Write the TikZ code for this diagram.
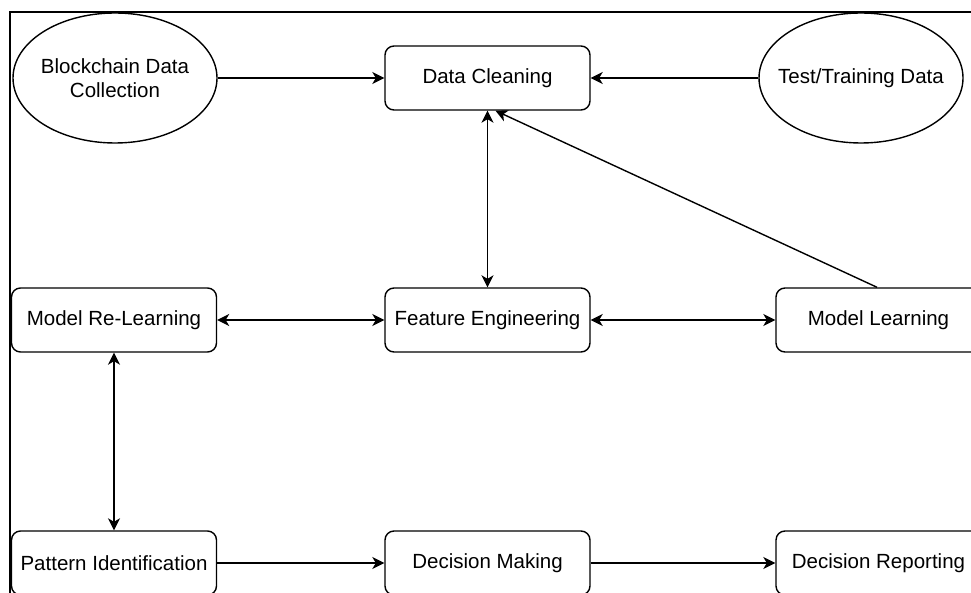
\documentclass[tikz,border=0pt]{standalone}
\usepackage{fontspec}
\setmainfont{Liberation Sans}
\usetikzlibrary{shapes.geometric,arrows.meta}
\begin{document}
\begin{tikzpicture}[x=1pt,y=-1pt,
  box/.style={draw,line width=1.4pt,rounded corners=9pt,minimum width=205pt,minimum height=64pt,inner sep=0pt,font=\fontsize{20.5}{24}\selectfont,align=center},
  oval/.style={draw,line width=1.4pt,ellipse,minimum width=204pt,minimum height=130pt,inner sep=0pt},
  ovaltext/.style={inner sep=0pt,font=\fontsize{20.5}{24}\selectfont,align=center},
  conn/.style={line width=1.4pt},
  tip/.tip={Stealth[length=12pt,width=12pt,inset=3.5pt]}]
\clip (0,0) rectangle (971,593);
\fill[white] (0,0) rectangle (971,593);
\draw[line width=2.5pt] (10,593) -- (10,12) -- (971,12);

\node[oval] (bc) at (115,78) {};
\node[ovaltext] (bctext) at (bc.center) {Blockchain Data\\Collection};
\node[oval] (tt) at (861,78) {};
\node[ovaltext] (tttext) at (tt.center) {Test/Training Data};
\node[box] (dc) at (487.5,78) {Data Cleaning};
\node[box] (fe) at (487.5,320) {Feature Engineering};
\node[box] (mrl) at (114,320) {Model Re-Learning};
\node[box] (ml) at (878.5,320) {Model Learning};
\node[box] (pi) at (114,563) {Pattern Identification};
\node[box] (dm) at (487.5,563) {Decision Making};
\node[box] (dr) at (878.5,563) {Decision Reporting};

\draw[conn,-tip] (bc) -- (dc);
\draw[conn,-tip] (tt) -- (dc);
\draw[conn,tip-tip] (dc) -- (fe);
\draw[conn,-tip] ([xshift=-1.5pt]ml.north) -- ([xshift=8pt]dc.south);
\draw[conn,tip-tip] (mrl) -- (fe);
\draw[conn,tip-tip] (fe) -- (ml);
\draw[conn,tip-tip] (mrl) -- (pi);
\draw[conn,-tip] (pi) -- (dm);
\draw[conn,-tip] (dm) -- (dr);
\end{tikzpicture}
\end{document}
